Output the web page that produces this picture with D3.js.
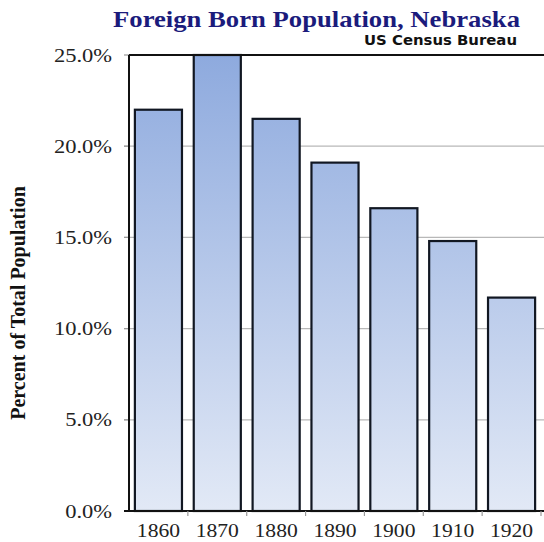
<!DOCTYPE html>
<html>
<head>
<meta charset="utf-8">
<script src="https://cdn.jsdelivr.net/npm/d3@7"></script>
<style>
  html, body { margin: 0; padding: 0; background: #fff; }
  svg { display: block; }
</style>
</head>
<body>
<script>
const years = ["1860", "1870", "1880", "1890", "1900", "1910", "1920"];
const percentForeignBorn = [22.0, 25.0, 21.5, 19.1, 16.6, 14.8, 11.7];
const yTicks = [0, 5, 10, 15, 20, 25];
const titleText = "Foreign Born Population, Nebraska";
const subtitleText = "US Census Bureau";
const yAxisLabel = "Percent of Total Population";

const W = 544, H = 542;
const plot = { left: 129, top: 55, bottom: 511, right: 620 };
const serif = "Liberation Serif, 'Times New Roman', serif";

const svg = d3.select("body").append("svg")
  .attr("width", W).attr("height", H);

const defs = svg.append("defs");
const grad = defs.append("linearGradient")
  .attr("id", "barGrad")
  .attr("gradientUnits", "userSpaceOnUse")
  .attr("x1", 0).attr("x2", 0)
  .attr("y1", plot.top).attr("y2", plot.bottom);
grad.append("stop").attr("offset", "0%").attr("stop-color", "#8eaade");
grad.append("stop").attr("offset", "100%").attr("stop-color", "#e2e9f6");

const x = d3.scaleBand()
  .domain(years)
  .range([plot.left, plot.left + 412])
  .paddingInner(0.2)
  .paddingOuter(0.1);

const y = d3.scaleLinear()
  .domain([0, 25])
  .range([plot.bottom, plot.top]);

// gridlines
svg.append("g")
  .selectAll("line")
  .data(yTicks.filter(d => d !== 0 && d !== 25))
  .join("line")
  .attr("x1", plot.left - 5)
  .attr("x2", plot.right)
  .attr("y1", d => y(d))
  .attr("y2", d => y(d))
  .attr("stroke", "#b8b8b8")
  .attr("stroke-width", 1.2);

// y ticks
svg.append("g")
  .selectAll("line")
  .data(yTicks)
  .join("line")
  .attr("x1", plot.left - 5).attr("x2", plot.left)
  .attr("y1", d => y(d)).attr("y2", d => y(d))
  .attr("stroke", "#999").attr("stroke-width", 1.2);

// bars
svg.append("g")
  .selectAll("rect")
  .data(years.map((yr, i) => ({ yr, v: percentForeignBorn[i] })))
  .join("rect")
  .attr("x", d => x(d.yr))
  .attr("width", x.bandwidth())
  .attr("y", d => y(d.v))
  .attr("height", d => y(0) - y(d.v))
  .attr("fill", "url(#barGrad)")
  .attr("stroke", "#111722")
  .attr("stroke-width", 2.2);

// frame
svg.append("line")
  .attr("x1", plot.left).attr("x2", plot.right)
  .attr("y1", plot.top).attr("y2", plot.top)
  .attr("stroke", "#111").attr("stroke-width", 2);
svg.append("line")
  .attr("x1", plot.left).attr("x2", plot.left)
  .attr("y1", plot.top).attr("y2", plot.bottom)
  .attr("stroke", "#111").attr("stroke-width", 2);
svg.append("line")
  .attr("x1", plot.left - 5).attr("x2", plot.right)
  .attr("y1", plot.bottom).attr("y2", plot.bottom)
  .attr("stroke", "#111").attr("stroke-width", 2);

// x tick marks at band boundaries
const step = x.step();
svg.append("g")
  .selectAll("line")
  .data(years)
  .join("line")
  .attr("x1", d => x(d) + x.bandwidth() + step * x.paddingInner() / 2)
  .attr("x2", d => x(d) + x.bandwidth() + step * x.paddingInner() / 2)
  .attr("y1", plot.bottom).attr("y2", plot.bottom + 5)
  .attr("stroke", "#999").attr("stroke-width", 1.2);

// y tick labels
svg.append("g")
  .selectAll("text")
  .data(yTicks)
  .join("text")
  .attr("transform", d => `translate(112,${y(d) + 6.5}) scale(1.25,1)`)
  .attr("text-anchor", "end")
  .attr("font-family", serif)
  .attr("font-size", 18)
  .attr("fill", "#222")
  .text(d => d.toFixed(1) + "%");

// x tick labels
svg.append("g")
  .selectAll("text")
  .data(years)
  .join("text")
  .attr("transform", d => `translate(${x(d) + x.bandwidth() / 2},537) scale(1.2,1)`)
  .attr("text-anchor", "middle")
  .attr("font-family", serif)
  .attr("font-size", 18)
  .attr("fill", "#222")
  .text(d => d);

// title
svg.append("text")
  .attr("x", 113).attr("y", 27)
  .attr("textLength", 407)
  .attr("lengthAdjust", "spacingAndGlyphs")
  .attr("font-family", serif)
  .attr("font-weight", "bold")
  .attr("font-size", 24)
  .attr("fill", "#1b1b7c")
  .text(titleText);

svg.append("text")
  .attr("x", 364).attr("y", 45)
  .attr("textLength", 153)
  .attr("lengthAdjust", "spacingAndGlyphs")
  .attr("font-family", "DejaVu Sans, Verdana, sans-serif")
  .attr("font-weight", "bold")
  .attr("font-size", 13.5)
  .attr("fill", "#111")
  .text(subtitleText);

// y axis label
svg.append("text")
  .attr("transform", "translate(25,303) rotate(-90)")
  .attr("text-anchor", "middle")
  .attr("font-family", serif)
  .attr("font-weight", "bold")
  .attr("font-size", 20)
  .attr("fill", "#111")
  .text(yAxisLabel);
</script>
</body>
</html>
